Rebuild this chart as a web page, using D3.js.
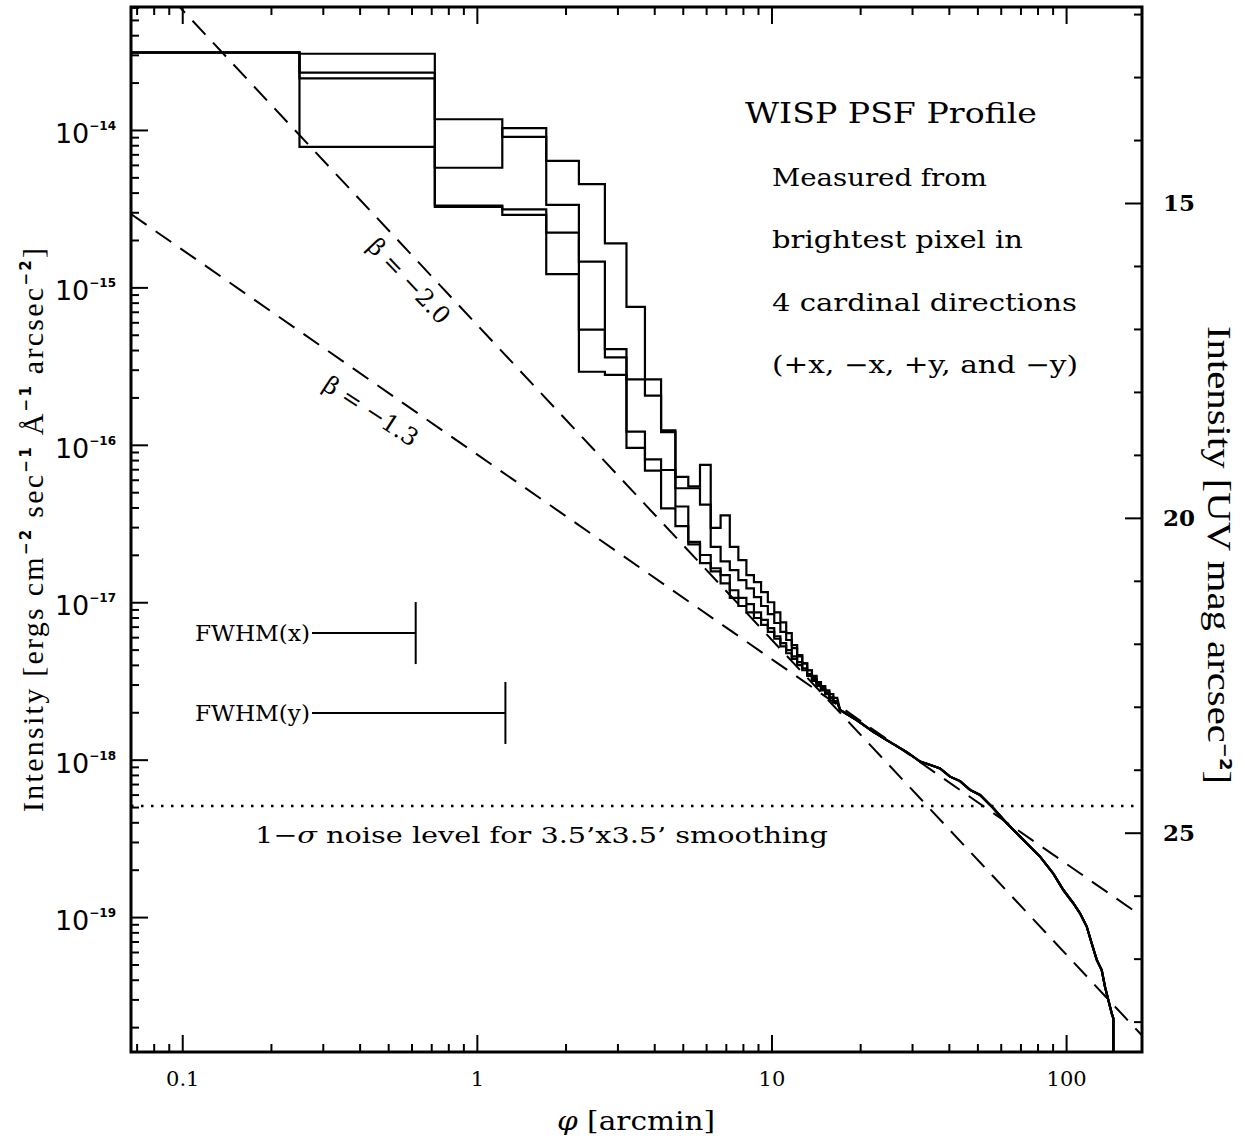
<!DOCTYPE html>
<html>
<head>
<meta charset="utf-8">
<script src="https://cdn.jsdelivr.net/npm/d3@7"></script>
<style>
  body { margin: 0; background: #fff; }
  svg { display: block; }
</style>
</head>
<body>
<svg id="chart" width="1245" height="1140"></svg>
<script>
// ---- data -------------------------------------------------------------
// Radial bin edges (arcmin) of the step profiles
const binEdges = [0.05, 0.25, 0.72, 1.22, 1.72, 2.22, 2.72, 3.22, 3.72, 4.22, 4.72,
  5.22, 5.72, 6.22, 6.72, 7.22, 7.72, 8.22, 8.72, 9.22, 9.72, 10.22, 10.72,
  11.22, 11.72, 12.22, 12.72, 13.22, 13.72, 14.22, 14.72, 15.22, 15.72, 16.22, 16.72];

// Surface brightness per bin (UV mag arcsec^-2), one profile per direction
const profilePlusX = [12.61, 12.63, 13.67, 13.95, 15.03, 15.93, 17.32, 17.80, 17.80, 18.61,
  19.35, 19.50, 19.16, 20.16, 19.96, 20.46, 20.67, 20.91, 21.02, 21.18, 21.34, 21.50,
  21.66, 21.83, 22.02, 22.18, 22.31, 22.42, 22.53, 22.61, 22.67, 22.74, 22.80, 22.86];
const profileMinusX = [12.61, 12.93, 14.44, 13.81, 14.33, 14.70, 15.64, 16.65, 18.06, 18.64,
  19.53, 19.53, 19.79, 20.46, 20.69, 20.83, 20.99, 21.12, 21.26, 21.40, 21.53, 21.67,
  21.81, 21.94, 22.07, 22.20, 22.31, 22.42, 22.51, 22.61, 22.69, 22.77, 22.85, 22.91];
const profilePlusY = [12.61, 13.02, 15.04, 15.10, 15.47, 17.01, 17.45, 18.63, 19.07, 19.24,
  19.82, 20.38, 20.59, 20.80, 20.91, 21.15, 21.27, 21.37, 21.50, 21.62, 21.75, 21.88,
  21.99, 22.10, 22.20, 22.29, 22.39, 22.48, 22.56, 22.64, 22.72, 22.78, 22.86, 22.93];
const profileMinusY = [12.61, 14.11, 15.06, 15.19, 16.13, 17.68, 17.73, 18.89, 19.25, 19.85,
  20.13, 20.42, 20.72, 20.85, 21.04, 21.27, 21.40, 21.50, 21.59, 21.70, 21.81, 21.92,
  22.04, 22.15, 22.24, 22.34, 22.42, 22.51, 22.59, 22.67, 22.74, 22.80, 22.86, 22.93];

// Outer wing where the four directions coincide
const tailPhi = [17.09, 19.46, 22.17, 24.62, 28.79, 31.95, 35.44, 37.34, 40.37, 43.66,
  47.21, 51.05, 56.64, 62.9, 68.0, 75.4, 81.6, 90.5, 97.9, 105.8, 111.5, 117.5,
  122.2, 127.1, 132.1, 135.6, 139.2, 142.9, 144.7, 144.7];
const tailMag = [23.05, 23.21, 23.40, 23.53, 23.72, 23.87, 23.94, 23.98, 24.11, 24.18,
  24.32, 24.40, 24.61, 24.85, 25.01, 25.22, 25.38, 25.65, 25.91, 26.12, 26.28, 26.49,
  26.76, 27.02, 27.18, 27.45, 27.66, 27.87, 27.95, 30.0];

// Power-law guides: I = amplitude * phi^beta
const powerLawBeta = [-2.0, -1.3];
const powerLawAmp = [5.8e-16, 8.7e-17];
const powerLawLabel = ["\u03B2 = \u22122.0", "\u03B2 = \u22121.3"];

const noiseLevel = 5.07e-19;           // 1-sigma, 3.5'x3.5' smoothing
const fwhmNames = ["FWHM(x)", "FWHM(y)"];
const fwhmValues = [0.62, 1.25];       // arcmin
const fwhmRowIntensity = [6.37e-18, 1.98e-18];

const xMajorTicks = [0.1, 1, 10, 100];
const xTickLabels = ["0.1", "1", "10", "100"];
const yMajorExponents = [-14, -15, -16, -17, -18, -19];
const magMajorTicks = [15, 20, 25];

const phiDomain = [0.067, 181];
const intensityDomain = [6.04e-14, 1.39e-20];
const magZeroPoint = 21.16;            // m = -2.5 log10(I) - ZP

// ---- layout -----------------------------------------------------------
const plot = { left: 131, right: 1142, top: 7, bottom: 1052 };
const svg = d3.select("#chart");
const serif = "'DejaVu Serif', serif";
const titleSerif = "'Liberation Serif', 'Times New Roman', serif";
const sans = "'DejaVu Sans', sans-serif";

const x = d3.scaleLog().domain(phiDomain).range([plot.left, plot.right]);
const y = d3.scaleLog().domain(intensityDomain).range([plot.top, plot.bottom]);
const toMag = I => -2.5 * Math.log10(I) - magZeroPoint;
const toInt = m => Math.pow(10, -0.4 * (m + magZeroPoint));
const yMag = d3.scaleLinear()
  .domain([toMag(intensityDomain[0]), toMag(intensityDomain[1])])
  .range([plot.top, plot.bottom]);

svg.append("defs").append("clipPath").attr("id", "plotClip")
  .append("rect").attr("x", plot.left).attr("y", plot.top)
  .attr("width", plot.right - plot.left).attr("height", plot.bottom - plot.top);

// ---- axes -------------------------------------------------------------
function minorLogTicks(lo, hi) {
  const out = [];
  for (let e = Math.floor(Math.log10(lo)) - 1; e <= Math.ceil(Math.log10(hi)); e++) {
    for (let k = 2; k <= 9; k++) {
      const v = k * Math.pow(10, e);
      if (v > lo && v < hi) out.push(v);
    }
  }
  return out;
}
const xMinor = minorLogTicks(phiDomain[0], phiDomain[1]);
const yMinor = minorLogTicks(intensityDomain[1], intensityDomain[0]);
const yMajor = yMajorExponents.map(e => Math.pow(10, e));
const magMinor = d3.range(12, 29).filter(m => !magMajorTicks.includes(m));

function styleAxis(g) {
  g.select(".domain").remove();
  g.selectAll(".tick line").attr("stroke", "#000").attr("stroke-width", 2);
}

// bottom
svg.append("g").attr("transform", `translate(0,${plot.bottom})`)
  .call(d3.axisBottom(x).tickValues(xMajorTicks).tickSize(-17).tickPadding(19)
    .tickFormat((d, i) => xTickLabels[i]))
  .call(styleAxis)
  .call(g => g.selectAll("text").attr("font-family", serif).attr("font-size", 21)
    .attr("fill", "#000"));
svg.append("g").attr("transform", `translate(0,${plot.bottom})`)
  .call(d3.axisBottom(x).tickValues(xMinor).tickSize(-8).tickFormat(""))
  .call(styleAxis);
// top
svg.append("g").attr("transform", `translate(0,${plot.top})`)
  .call(d3.axisTop(x).tickValues(xMajorTicks).tickSize(-17).tickFormat(""))
  .call(styleAxis);
svg.append("g").attr("transform", `translate(0,${plot.top})`)
  .call(d3.axisTop(x).tickValues(xMinor).tickSize(-8).tickFormat(""))
  .call(styleAxis);
// left (intensity)
svg.append("g").attr("transform", `translate(${plot.left},0)`)
  .call(d3.axisLeft(y).tickValues(yMajor).tickSize(-17).tickFormat(""))
  .call(styleAxis);
svg.append("g").attr("transform", `translate(${plot.left},0)`)
  .call(d3.axisLeft(y).tickValues(yMinor).tickSize(-8).tickFormat(""))
  .call(styleAxis);
// right (magnitudes)
svg.append("g").attr("transform", `translate(${plot.right},0)`)
  .call(d3.axisRight(yMag).tickValues(magMajorTicks).tickSize(-17).tickPadding(21)
    .tickFormat(d3.format("d")))
  .call(styleAxis)
  .call(g => g.selectAll("text").attr("font-family", serif).attr("font-size", 23)
    .attr("font-weight", "bold").attr("fill", "#000"));
svg.append("g").attr("transform", `translate(${plot.right},0)`)
  .call(d3.axisRight(yMag).tickValues(magMinor).tickSize(-8).tickFormat(""))
  .call(styleAxis);

// left tick labels 10^n
yMajorExponents.forEach(e => {
  const t = svg.append("text").attr("x", 116).attr("y", y(Math.pow(10, e)) + 13)
    .attr("text-anchor", "end").attr("font-family", sans).attr("fill", "#000");
  t.append("tspan").attr("font-size", 27).text("10");
  t.append("tspan").attr("font-size", 12).attr("font-weight", "bold").attr("dy", -13)
    .text("\u2212" + Math.abs(e));
});

// frame
svg.append("rect").attr("x", plot.left).attr("y", plot.top)
  .attr("width", plot.right - plot.left).attr("height", plot.bottom - plot.top)
  .attr("fill", "none").attr("stroke", "#000").attr("stroke-width", 3);

// ---- axis titles -------------------------------------------------------
svg.append("text").attr("x", 636).attr("y", 1130).attr("text-anchor", "middle")
  .attr("font-family", serif).attr("font-size", 26).attr("fill", "#000")
  .attr("textLength", 158).attr("lengthAdjust", "spacingAndGlyphs")
  .call(t => {
    t.append("tspan").attr("font-style", "italic").text("\u03C6");
    t.append("tspan").text(" [arcmin]");
  });

function addSup(t, s) {
  t.append("tspan").attr("font-size", 15).attr("font-weight", "bold")
    .attr("font-family", sans).attr("dy", -12).text(s);
}
const leftTitle = svg.append("text")
  .attr("transform", "translate(43,530) rotate(-90)")
  .attr("text-anchor", "middle").attr("font-family", titleSerif).attr("font-size", 30)
  .attr("fill", "#000")
  .attr("textLength", 564).attr("lengthAdjust", "spacing");
leftTitle.append("tspan").text("Intensity [ergs cm");
addSup(leftTitle, "\u22122");
leftTitle.append("tspan").attr("dy", 12).text(" sec");
addSup(leftTitle, "\u22121");
leftTitle.append("tspan").attr("dy", 12).text(" \u00C5");
addSup(leftTitle, "\u22121");
leftTitle.append("tspan").attr("dy", 12).text(" arcsec");
addSup(leftTitle, "\u22122");
leftTitle.append("tspan").attr("dy", 12).text("]");

const rightTitle = svg.append("text")
  .attr("transform", "translate(1208,555) rotate(90)")
  .attr("text-anchor", "middle").attr("font-family", titleSerif).attr("font-size", 34)
  .attr("fill", "#000")
  .attr("textLength", 458).attr("lengthAdjust", "spacingAndGlyphs");
rightTitle.append("tspan").text("Intensity [UV mag arcsec");
addSup(rightTitle, "\u22122");
rightTitle.append("tspan").attr("dy", 12).text("]");

// ---- data layer --------------------------------------------------------
const data = svg.append("g").attr("clip-path", "url(#plotClip)");

// power-law guides
powerLawBeta.forEach((b, i) => {
  const pts = [phiDomain[0], phiDomain[1]].map(p => [p, powerLawAmp[i] * Math.pow(p, b)]);
  data.append("path")
    .attr("d", d3.line().x(d => x(d[0])).y(d => y(d[1]))(pts))
    .attr("fill", "none").attr("stroke", "#000").attr("stroke-width", 2)
    .attr("stroke-dasharray", "19,11");
});

// noise level
data.append("line")
  .attr("x1", plot.left).attr("x2", plot.right)
  .attr("y1", y(noiseLevel)).attr("y2", y(noiseLevel))
  .attr("stroke", "#000").attr("stroke-width", 2.5).attr("stroke-dasharray", "2.5,7.5");

// step profiles
const stepLine = d3.line().x(d => x(d[0])).y(d => y(toInt(d[1])));
[profilePlusX, profileMinusX, profilePlusY, profileMinusY].forEach(prof => {
  const pts = [];
  prof.forEach((m, k) => {
    pts.push([binEdges[k], m]);
    pts.push([binEdges[k + 1], m]);
  });
  tailPhi.forEach((p, k) => pts.push([p, tailMag[k]]));
  data.append("path").attr("d", stepLine(pts))
    .attr("fill", "none").attr("stroke", "#000").attr("stroke-width", 2.2)
    .attr("stroke-linejoin", "miter");
});

// FWHM markers
fwhmValues.forEach((v, i) => {
  const yy = y(fwhmRowIntensity[i]);
  const x0 = 312;
  svg.append("line").attr("x1", x0).attr("x2", x(v)).attr("y1", yy).attr("y2", yy)
    .attr("stroke", "#000").attr("stroke-width", 2);
  svg.append("line").attr("x1", x(v)).attr("x2", x(v)).attr("y1", yy - 31).attr("y2", yy + 31)
    .attr("stroke", "#000").attr("stroke-width", 2);
  svg.append("text").attr("x", 195).attr("y", yy + 8)
    .attr("font-family", serif).attr("font-size", 22).attr("fill", "#000")
    .attr("textLength", 115).attr("lengthAdjust", "spacingAndGlyphs")
    .text(fwhmNames[i]);
});

// noise label
svg.append("text").attr("x", 255).attr("y", 843)
  .attr("font-family", serif).attr("font-size", 23).attr("fill", "#000")
  .attr("textLength", 573).attr("lengthAdjust", "spacingAndGlyphs")
  .call(t => {
    t.append("tspan").text("1\u2212");
    t.append("tspan").attr("font-style", "italic").text("\u03C3");
    t.append("tspan").text(" noise level for 3.5\u2019x3.5\u2019 smoothing");
  });

// power-law labels
const betaLabelPos = [[409, 281, 46.5], [371, 411, 33]];
powerLawLabel.forEach((s, i) => {
  const [cx, cy, ang] = betaLabelPos[i];
  svg.append("text").attr("transform", `translate(${cx},${cy}) rotate(${ang})`)
    .attr("text-anchor", "middle").attr("dy", "0.35em")
    .attr("font-family", serif).attr("font-size", 24).attr("fill", "#000")
    .text(s);
});

// annotation block
svg.append("text").attr("x", 745).attr("y", 123)
  .attr("font-family", serif).attr("font-size", 28).attr("fill", "#000")
  .attr("textLength", 292).attr("lengthAdjust", "spacingAndGlyphs")
  .text("WISP PSF Profile");
const notes = [["Measured from", 186, 215], ["brightest pixel in", 248, 251],
  ["4 cardinal directions", 311, 305], ["(+x, \u2212x, +y, and \u2212y)", 373, 306]];
notes.forEach(([s, yy, len]) => {
  svg.append("text").attr("x", 772).attr("y", yy)
    .attr("font-family", serif).attr("font-size", 24).attr("fill", "#000")
    .attr("textLength", len).attr("lengthAdjust", "spacingAndGlyphs")
    .text(s);
});
</script>
</body>
</html>
